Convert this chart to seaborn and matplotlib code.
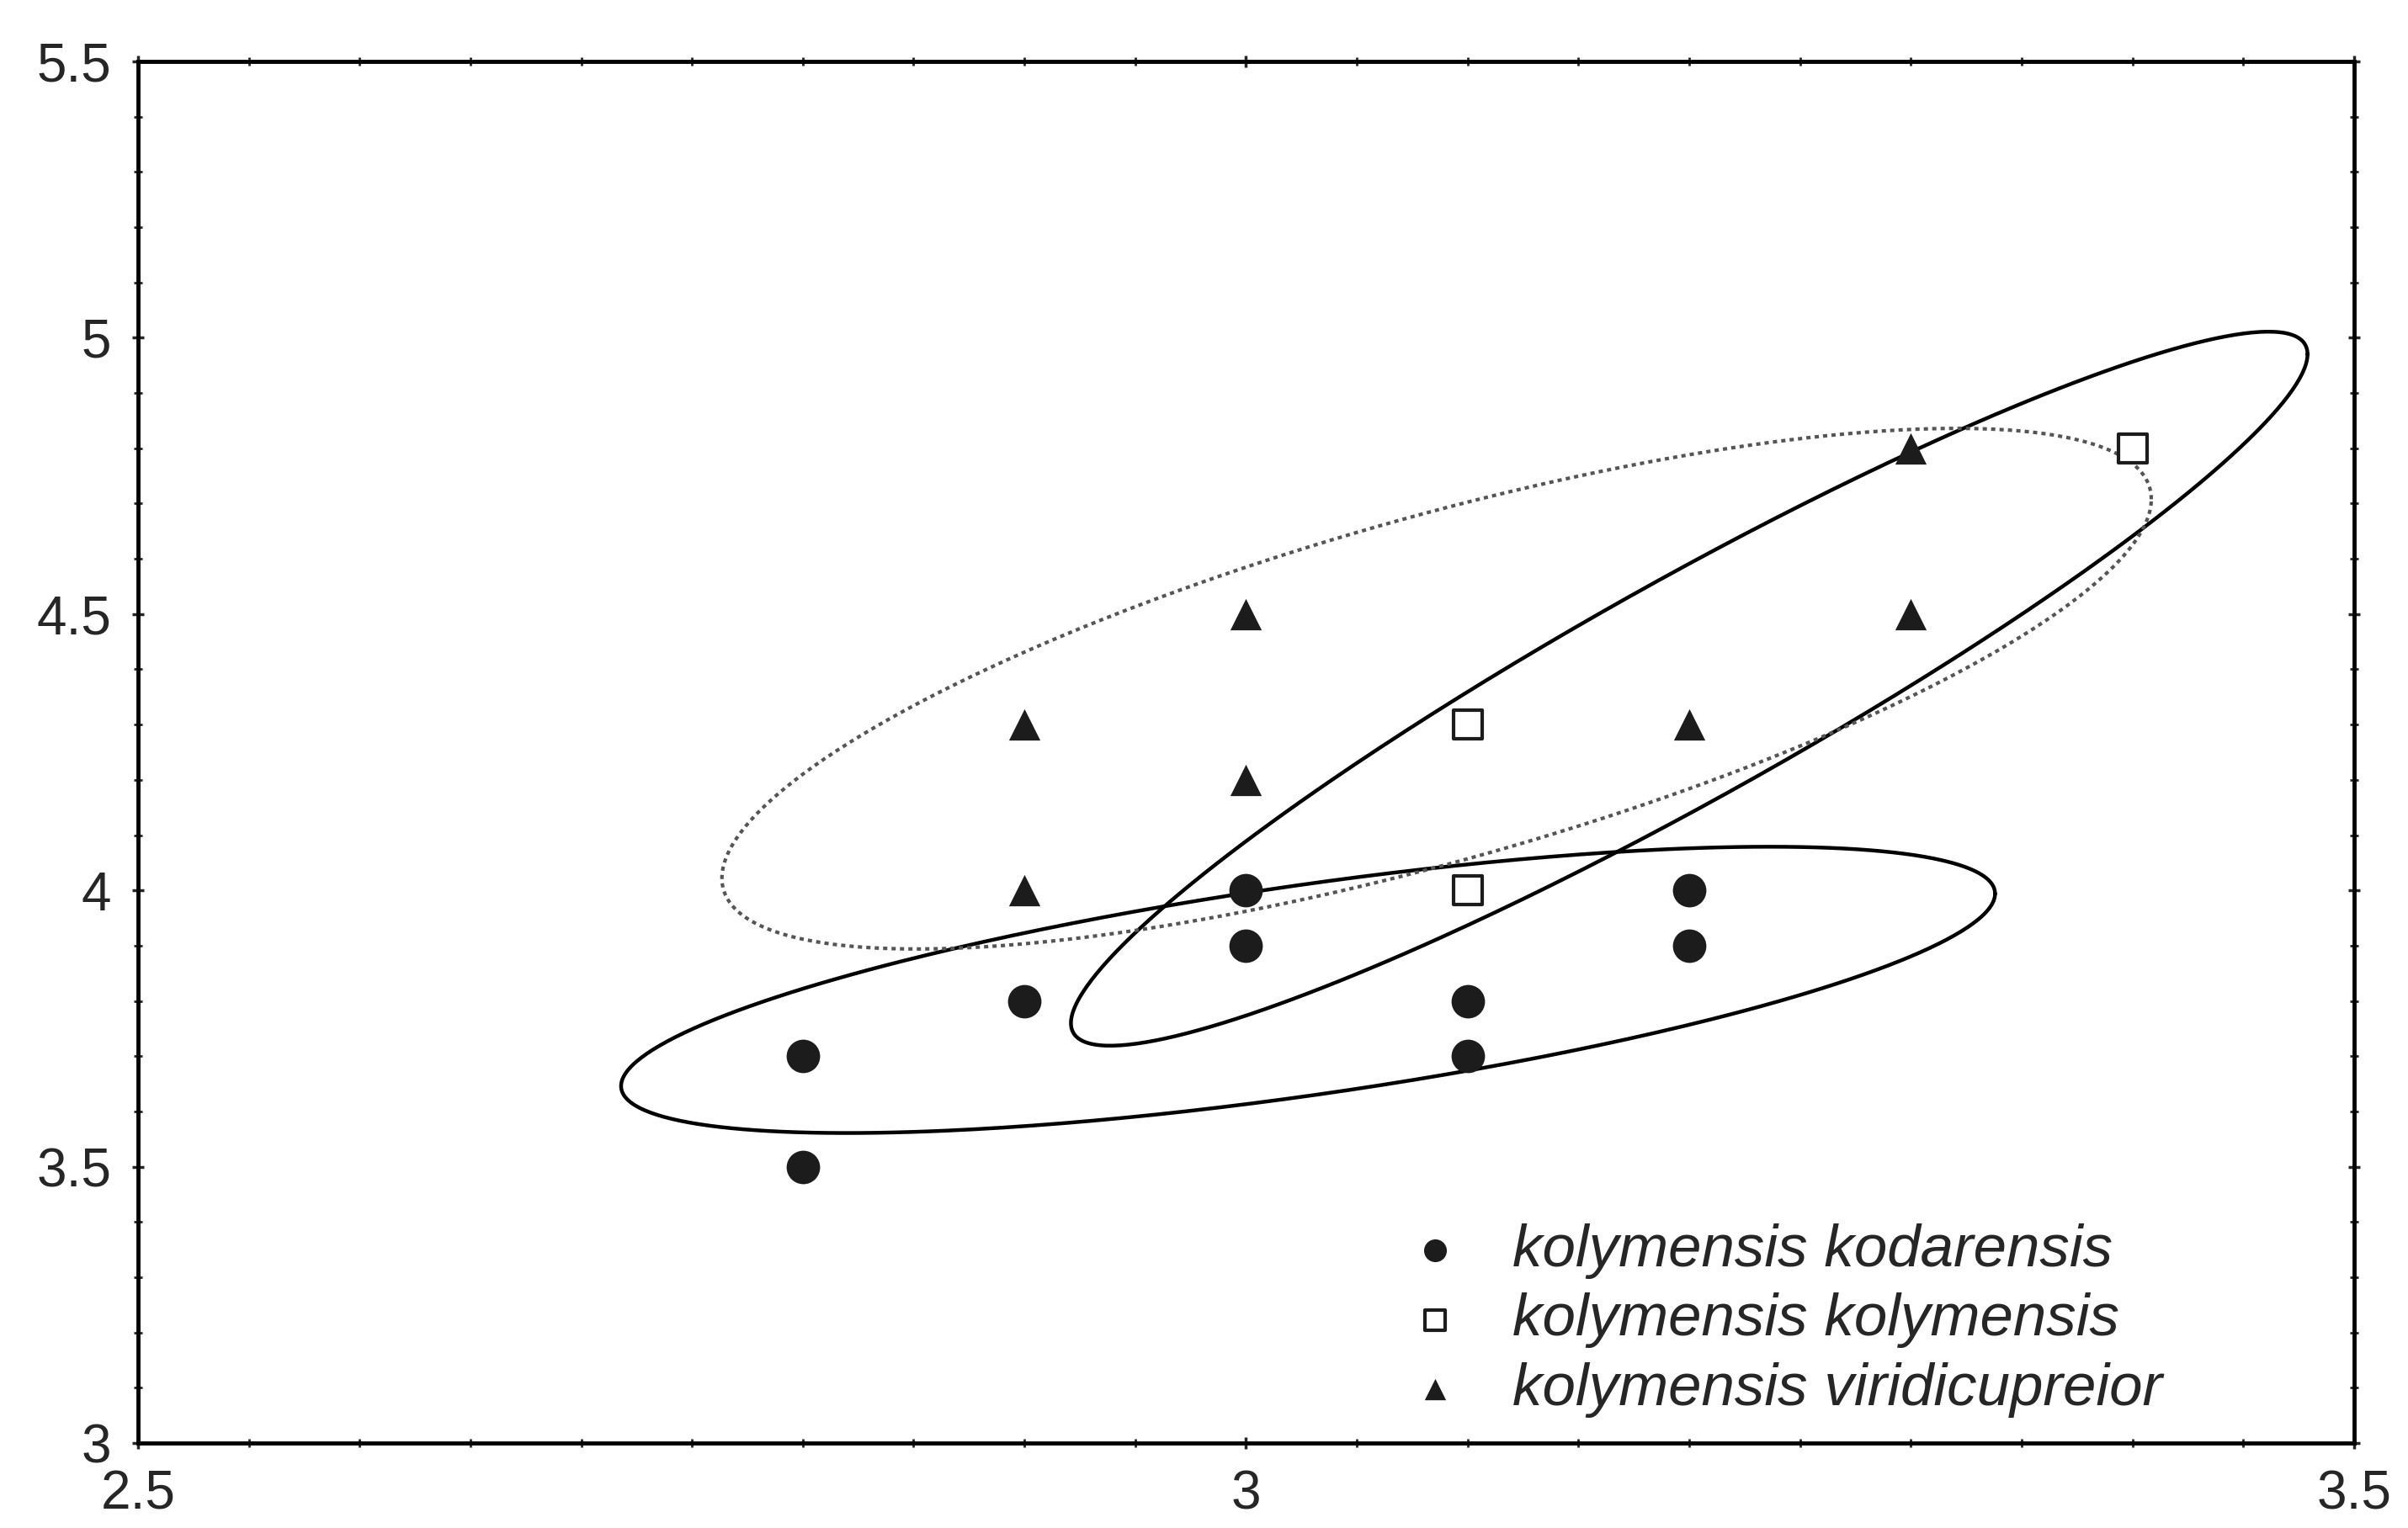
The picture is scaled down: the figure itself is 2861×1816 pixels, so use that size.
import numpy as np
import pandas as pd
import matplotlib
matplotlib.use('Agg')
import matplotlib.pyplot as plt
import seaborn as sns
from matplotlib.ticker import MultipleLocator

# point data
kod_x = [2.8, 2.8, 2.9, 3.0, 3.0, 3.1, 3.1, 3.2, 3.2]
kod_y = [3.7, 3.5, 3.8, 4.0, 3.9, 3.8, 3.7, 4.0, 3.9]
kol_x = [3.1, 3.1, 3.4]
kol_y = [4.3, 4.0, 4.8]
vir_x = [2.9, 2.9, 3.0, 3.0, 3.2, 3.3, 3.3]
vir_y = [4.3, 4.0, 4.5, 4.2, 4.3, 4.8, 4.5]

labels = ['kolymensis kodarensis', 'kolymensis kolymensis', 'kolymensis viridicupreior']

# ellipse parameters (centre, half extents in x / y, phase of the tilt in degrees)
ell_cx = [3.028, 3.200, 3.086]
ell_cy = [3.820, 4.365, 4.365]
ell_ax = [0.310, 0.279, 0.3225]
ell_ay = [0.259, 0.646, 0.471]
ell_phase = [47.8, 20.5, 43.3]

x_ticks = [2.5, 3.0, 3.5]
x_ticklabels = ['2.5', '3', '3.5']
y_ticks = [3.0, 3.5, 4.0, 4.5, 5.0, 5.5]
y_ticklabels = ['3', '3.5', '4', '4.5', '5', '5.5']

sns.set_style('white')
plt.rcParams['font.family'] = ['Liberation Sans', 'DejaVu Sans']

fig = plt.figure(figsize=(28.61, 18.16), dpi=100)
ax = fig.add_axes([0.0573, 0.0556, 0.9203, 0.9042])

df = pd.concat([
    pd.DataFrame({'x': kod_x, 'y': kod_y, 'group': labels[0]}),
    pd.DataFrame({'x': kol_x, 'y': kol_y, 'group': labels[1]}),
    pd.DataFrame({'x': vir_x, 'y': vir_y, 'group': labels[2]}),
], ignore_index=True)

# ellipses
t = np.linspace(0, 2 * np.pi, 400)
styles = [dict(color='black', lw=3.2, ls='-'),
          dict(color='black', lw=3.2, ls='-'),
          dict(color='#555555', lw=3.0, ls=(0, (1.2, 1.2)))]
for cx, cy, a, b, ph, st in zip(ell_cx, ell_cy, ell_ax, ell_ay, ell_phase, styles):
    ex = cx + a * np.cos(t)
    ey = cy + b * np.cos(t - np.radians(ph))
    ax.plot(ex, ey, zorder=2, **st)

sns.scatterplot(data=df[df.group == labels[0]], x='x', y='y', marker='o', s=820,
                color='#1c1c1c', edgecolor='#1c1c1c', linewidth=0, ax=ax, zorder=3, label=labels[0])
sns.scatterplot(data=df[df.group == labels[1]], x='x', y='y', marker='s', s=620,
                color='white', edgecolor='#1c1c1c', linewidth=3, ax=ax, zorder=3, label=labels[1])
sns.scatterplot(data=df[df.group == labels[2]], x='x', y='y', marker='^', s=720,
                color='#1c1c1c', edgecolor='#1c1c1c', linewidth=0, ax=ax, zorder=3, label=labels[2])

ax.set_xlim(2.5, 3.5)
ax.set_ylim(3.0, 5.5)
ax.set_xticks(x_ticks)
ax.set_xticklabels(x_ticklabels)
ax.set_yticks(y_ticks)
ax.set_yticklabels(y_ticklabels)
ax.xaxis.set_minor_locator(MultipleLocator(0.05))
ax.yaxis.set_minor_locator(MultipleLocator(0.1))
ax.tick_params(which='major', direction='inout', length=10, width=2.5, labelsize=46,
               top=True, right=True, bottom=True, left=True, pad=18)
ax.tick_params(which='minor', direction='inout', length=7, width=2,
               top=True, right=True, bottom=True, left=True)
ax.set_xlabel('')
ax.set_ylabel('')
for sp in ax.spines.values():
    sp.set_visible(True)
    sp.set_linewidth(3.5)
    sp.set_color('black')

leg = ax.legend(loc='upper left', bbox_to_anchor=(0.572, 0.159), borderaxespad=0,
                borderpad=0, frameon=False, markerscale=0.68, handlelength=1.0,
                handletextpad=0.8, labelspacing=0.23,
                prop={'family': ['Liberation Sans', 'DejaVu Sans'], 'style': 'italic', 'size': 51})

fig.savefig('out.png', dpi=100)
plt.close(fig)
